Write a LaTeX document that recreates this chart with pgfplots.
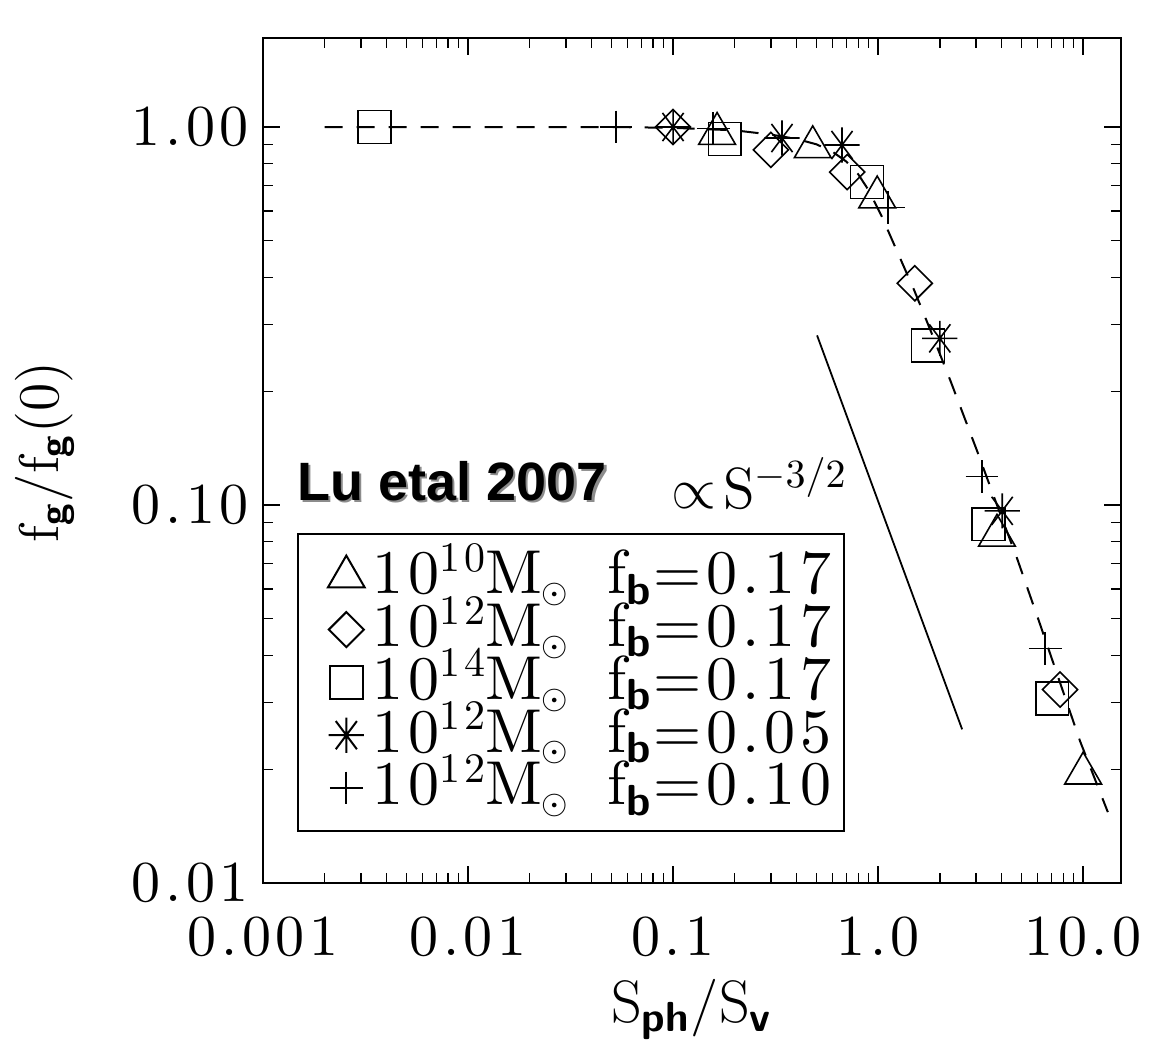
\documentclass[border=0pt]{standalone}
\usepackage{amsmath}
\usepackage{fontspec}
\usepackage{pgfplots}
\pgfplotsset{compat=1.18}
\newfontfamily\helv{Liberation Sans}
\newfontfamily\lmw{lmroman10-regular.otf}[LetterSpace=8]
\newcommand{\bsub}[1]{\text{\sffamily\bfseries #1}}
\newcommand{\ent}[2]{\makebox[108.3pt][l]{\makebox[58.75pt][l]{10\raisebox{5.6pt}{\fontsize{10.5}{10.5}\selectfont #1}M$_{\scriptscriptstyle\odot}$}f$_{\bsub{b}}$=#2}}
\pgfdeclareplotmark{ast8}{%
  \pgfpathmoveto{\pgfqpoint{\pgfplotmarksize}{0pt}}%
  \pgfpathlineto{\pgfqpoint{-\pgfplotmarksize}{0pt}}%
  \pgfpathmoveto{\pgfqpoint{0pt}{\pgfplotmarksize}}%
  \pgfpathlineto{\pgfqpoint{0pt}{-\pgfplotmarksize}}%
  \pgfpathmoveto{\pgfqpoint{.6\pgfplotmarksize}{.8\pgfplotmarksize}}%
  \pgfpathlineto{\pgfqpoint{-.6\pgfplotmarksize}{-.8\pgfplotmarksize}}%
  \pgfpathmoveto{\pgfqpoint{-.6\pgfplotmarksize}{.8\pgfplotmarksize}}%
  \pgfpathlineto{\pgfqpoint{.6\pgfplotmarksize}{-.8\pgfplotmarksize}}%
  \pgfusepathqstroke}
\begin{document}
\begin{tikzpicture}
\begin{axis}[
  xmode=log, ymode=log,
  scale only axis, width=214.5pt, height=211.25pt,
  xmin=0.001, xmax=15.3, ymin=0.01, ymax=1.72,
  xtick={0.001,0.01,0.1,1,10}, xticklabels={0.001,0.01,0.1,1.0,10.0},
  minor xtick={0.002,0.003,0.004,0.005,0.006,0.007,0.008,0.009,0.02,0.03,0.04,0.05,0.06,0.07,0.08,0.09,0.2,0.3,0.4,0.5,0.6,0.7,0.8,0.9,2,3,4,5,6,7,8,9},
  ytick={0.01,0.1,1}, yticklabels={0.01,0.10,1.00},
  minor ytick={0.02,0.03,0.04,0.05,0.06,0.07,0.08,0.09,0.2,0.3,0.4,0.5,0.6,0.7,0.8,0.9},
  tick align=inside,
  major tick length=4.2pt, minor tick length=2.4pt,
  axis line style={line width=0.5pt},
  every tick/.style={black, line width=0.35pt},
  ticklabel style={font=\lmw\fontsize{14.5}{16}\selectfont},
  xticklabel style={yshift=-5pt},
  xlabel={$\mathrm{S}_{\bsub{ph}}/\mathrm{S}_{\bsub{v}}$},
  xlabel style={at={(axis description cs:0.5,-0.15)}, anchor=center, font=\fontsize{15}{16}\selectfont},
  ylabel={$\mathrm{f}_{\bsub{g}}/\mathrm{f}_{\bsub{g}}(0)$},
  ylabel style={at={(axis description cs:-0.254,0.51)}, anchor=center, font=\fontsize{14}{16}\selectfont},
  every mark/.append style={solid, line width=0.6pt},
  legend style={at={(axis description cs:0.0396,0.414)}, anchor=north west, draw=black, line width=0.5pt,
    inner xsep=7.5pt, inner ysep=2.9pt, font=\lmw\fontsize{15.5}{15.5}\selectfont, row sep=-2.3pt,
    cells={anchor=west, inner xsep=2pt, inner ysep=0pt, text height=10pt, text depth=3.6pt}},
  legend cell align=left,
  legend image code/.code={\draw[mark repeat=2,mark phase=2] plot coordinates {(0cm,0cm) (0.25cm,0cm) (0.5cm,0cm)};},
]
\addplot[black, line width=0.5pt, dash pattern=on 4.5pt off 3.5pt, forget plot] coordinates {
(0.002,1.0) (0.05,1.0) (0.1,0.995) (0.2,0.98) (0.3,0.955) (0.4,0.93) (0.5,0.9) (0.6,0.86) (0.7,0.81) (0.8,0.75) (0.9,0.68) (1.05,0.575) (1.28,0.45) (1.5,0.37) (1.8,0.29) (2.24,0.215) (3.04,0.139) (3.8,0.1) (4.76,0.0723) (6.17,0.0483) (8.0,0.032) (9.67,0.0237) (13.2,0.0154)};
\addplot[black, line width=0.45pt, forget plot] coordinates {(0.504,0.281) (2.57,0.0255)};
\addplot[black, only marks, mark=triangle, mark size=5.3pt] coordinates {
(0.164,0.96) (0.48,0.885) (0.99,0.652) (3.80,0.083) (10.0,0.0195)};
\addlegendentry{\ent{10}{0.17}}
\addplot[black, only marks, mark=square, mark size=3.1pt, mark options={rotate=45}] coordinates {
(0.1,1.0) (0.30,0.87) (0.707,0.76) (1.51,0.386) (7.72,0.0325)};
\addlegendentry{\ent{12}{0.17}}
\addplot[black, only marks, mark=square, mark size=4.1pt] coordinates {
(0.0035,1.0) (0.179,0.93) (0.883,0.715) (1.75,0.264) (3.45,0.089) (7.06,0.0308)};
\addlegendentry{\ent{14}{0.17}}
\addplot[black, only marks, mark=ast8, mark size=4.4pt] coordinates {
(0.1,1.0) (0.34,0.935) (0.667,0.896) (2.0,0.276) (4.03,0.0965)};
\addlegendentry{\ent{12}{0.05}}
\addplot[black, only marks, mark=+, mark size=4.1pt] coordinates {
(0.0527,1.0) (0.157,0.99) (1.12,0.613) (3.21,0.119) (6.53,0.0417)};
\addlegendentry{\ent{12}{0.10}}
\node[text=black!45, font=\helv\bfseries\fontsize{13.5}{14}\selectfont] at ([shift={(0.7pt,-0.7pt)}]rel axis cs:0.220,0.476) {Lu etal 2007};
\node[text=black, font=\helv\bfseries\fontsize{13.5}{14}\selectfont] at (rel axis cs:0.220,0.476) {Lu etal 2007};
\node[font=\fontsize{14.5}{16}\selectfont] at (rel axis cs:0.579,0.473) {$\propto\!\mathrm{S}^{-3/2}$};
\coordinate (bbsw) at (rel axis cs:0,0);
\coordinate (bbne) at (rel axis cs:1,1);
\end{axis}
\pgfresetboundingbox
\path ([shift={(-65.75pt,-40.75pt)}]bbsw) rectangle ([shift={(11pt,9.5pt)}]bbne);
\end{tikzpicture}
\end{document}
